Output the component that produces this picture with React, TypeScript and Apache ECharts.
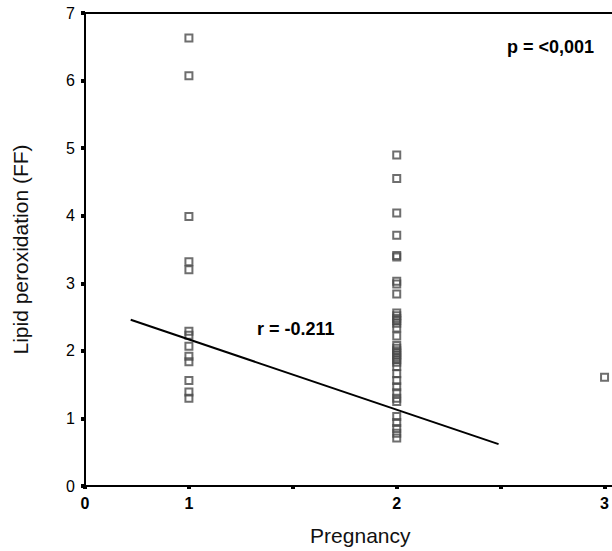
import React, { useEffect, useRef } from "react";
import * as echarts from "echarts";

// Pregnancy group 1 values
const group1Values = [6.63, 6.07, 3.99, 3.32, 3.2, 2.29, 2.23, 2.07, 1.92, 1.84, 1.56, 1.39, 1.3];
// Pregnancy group 2 values
const group2Values = [
  4.9, 4.55, 4.04, 3.71, 3.41, 3.39, 3.03, 2.99, 2.84,
  2.56, 2.52, 2.48, 2.45, 2.41, 2.34, 2.22, 2.08, 2.04, 2.0, 1.97, 1.94, 1.9, 1.87,
  1.83, 1.77, 1.66, 1.56, 1.47, 1.38, 1.3, 1.25,
  1.03, 0.94, 0.85, 0.78, 0.71,
];
// Pregnancy group 3 values
const group3Values = [1.61];

// Regression line end points [x, y]
const regressionLine = [
  [0.72, 2.46],
  [2.49, 0.62],
];

const rLabel = "r = -0.211";
const pLabel = "p = <0,001";
const xTitle = "Pregnancy";
const yTitle = "Lipid peroxidation (FF)";

const FONT = "'Liberation Sans', Arial, sans-serif";

export default function App() {
  const ref = useRef<HTMLDivElement>(null);

  useEffect(() => {
    if (!ref.current) return;
    const chart = echarts.init(ref.current, undefined, { renderer: "svg" });

    const points: number[][] = [];
    group1Values.forEach((v) => points.push([1, v]));
    group2Values.forEach((v) => points.push([2, v]));
    group3Values.forEach((v) => points.push([3, v]));

    chart.setOption({
      animation: false,
      backgroundColor: "#ffffff",
      grid: { left: 85, right: 0, top: 13, bottom: 65, containLabel: false },
      xAxis: [
        {
          type: "value",
          min: 0.5,
          max: 3.034,
          interval: 0.5,
          name: xTitle,
          nameLocation: "middle",
          nameGap: 39,
          nameTextStyle: { fontFamily: FONT, fontSize: 21, color: "#111", padding: [0, 0, 0, 24] },
          axisLine: { show: true, onZero: false, lineStyle: { color: "#000", width: 2 } },
          axisTick: { show: true, length: 3, lineStyle: { color: "#000", width: 4 } },
          axisLabel: {
            margin: 9,
            fontFamily: FONT,
            fontSize: 16,
            fontWeight: "bold",
            color: "#000",
            showMaxLabel: false,
            formatter: (v: number) => {
              if (Math.abs(v - 0.5) < 1e-6) return "0";
              if (Math.abs(v - Math.round(v)) < 1e-6) return String(Math.round(v));
              return "";
            },
          },
          splitLine: { show: false },
        },
        {
          type: "value",
          position: "top",
          min: 0.5,
          max: 3.034,
          axisLine: { show: true, onZero: false, lineStyle: { color: "#000", width: 2 } },
          axisTick: { show: false },
          axisLabel: { show: false },
          splitLine: { show: false },
        },
      ],
      yAxis: {
        type: "value",
        min: 0,
        max: 7,
        interval: 1,
        name: yTitle,
        nameLocation: "middle",
        nameGap: 54,
        nameRotate: 90,
        nameTextStyle: { fontFamily: FONT, fontSize: 21, color: "#111" },
        axisLine: { show: true, onZero: false, lineStyle: { color: "#000", width: 2 } },
        axisTick: { show: true, length: 4, lineStyle: { color: "#000", width: 4 } },
        axisLabel: { margin: 10, fontFamily: FONT, fontSize: 16, color: "#000" },
        splitLine: { show: false },
      },
      series: [
        {
          type: "scatter",
          xAxisIndex: 0,
          data: points,
          symbol: "rect",
          symbolSize: 7,
          itemStyle: { color: "transparent", borderColor: "#4a4a4a", borderWidth: 2 },
          z: 3,
        },
        {
          type: "line",
          xAxisIndex: 0,
          data: regressionLine,
          showSymbol: false,
          symbol: "none",
          lineStyle: { color: "#000", width: 2 },
          z: 4,
        },
      ],
      graphic: [
        {
          type: "text",
          left: 257,
          top: 320,
          style: { text: rLabel, font: `bold 18px ${FONT}`, fill: "#000" },
        },
        {
          type: "text",
          left: 507,
          top: 38,
          style: { text: pLabel, font: `bold 18px ${FONT}`, fill: "#000" },
        },
      ],
    });

    return () => chart.dispose();
  }, []);

  return (
    <div
      ref={ref}
      style={{ position: "absolute", left: 0, top: 0, width: 612, height: 551 }}
    />
  );
}
